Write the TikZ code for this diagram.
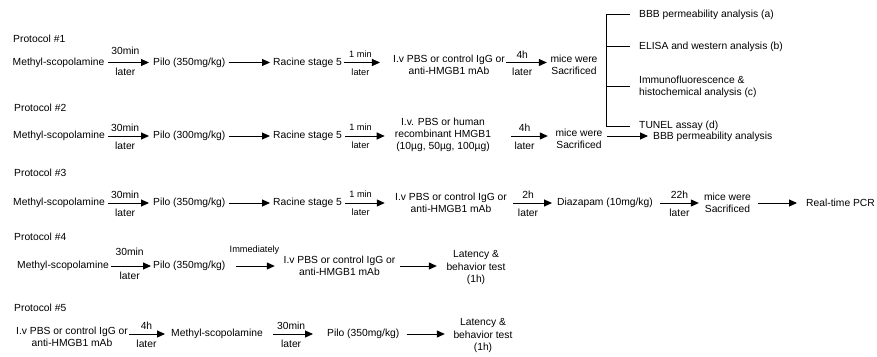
\documentclass[tikz,border=0pt]{standalone}
\usepackage{fontspec}
\setmainfont{Liberation Sans}
\usetikzlibrary{arrows.meta}
\newcommand\fmain{\fontsize{10.3}{12.3}\selectfont}
\newcommand\fsmall{\fontsize{9.2}{11}\selectfont}
\begin{document}
\begin{tikzpicture}[x=1pt,y=-1pt,
  txt/.style={inner sep=0pt, font=\fmain, align=center},
  wtxt/.style={txt, anchor=west},
  arr/.style={line width=1pt, -{Triangle[length=8pt,width=7pt]}},
  ln/.style={line width=0.75pt},
  ta/.style={above=4pt, font=\fmain, inner sep=0pt},
  tb/.style={below=5.5pt, font=\fmain, inner sep=0pt},
  sa/.style={above=5pt, font=\fsmall, inner sep=0pt},
  sb/.style={below=5.5pt, font=\fsmall, inner sep=0pt}]
\useasboundingbox (0,0) rectangle (877,356);
\coordinate (y1) at (0,62.5);
\coordinate (y2) at (0,136);
\coordinate (y3) at (0,203);
\coordinate (y4) at (0,266);
\coordinate (y5) at (0,334);
\coordinate (bx) at (606,0);

% ---------- Protocol 1
\node[wtxt] (pl1) at (13,39) {Protocol \#1};
\node[wtxt] (m1) at (12.5,62.5) {Methyl-scopolamine};
\node[wtxt] (p1) at (153,62.5) {Pilo (350mg/kg)};
\node[wtxt] (r1) at (273,62.5) {Racine stage 5};
\node[txt] (i1) at (449,65) {I.v PBS or control IgG or\\anti-HMGB1 mAb};
\node[txt] (s1) at (574,65) {mice were\\Sacrificed};
\node[wtxt] (t1) at (639,14.5) {BBB permeability analysis (a)};
\node[wtxt] (t2) at (639,46.5) {ELISA and western analysis (b)};
\node[wtxt, align=left] (t3) at (639,86.5) {Immunofluorescence \&\\histochemical analysis (c)};
\node[wtxt] (t4) at (639,126) {TUNEL assay (d)};

\draw[arr, shorten <=4pt, shorten >=4pt] (m1.east |- y1) -- node[ta, above=3pt, pos=0.43]{30min} node[tb, pos=0.43]{later} (p1.west |- y1);
\draw[arr, shorten <=3pt, shorten >=3pt] (p1.east |- y1) -- (r1.west |- y1);
\draw[arr, shorten <=1.5pt, shorten >=13pt] (r1.east |- y1) -- node[sa, pos=0.36]{1 min} node[sb, pos=0.36]{later} (i1.west |- y1);
\draw[arr, shorten <=1pt, shorten >=3.5pt] (i1.east |- y1) -- node[ta, pos=0.38]{4h} node[tb, pos=0.38]{later} (s1.west |- y1);

\draw[ln] (bx |- t1.west) -- (bx |- t4.west);
\draw[ln, shorten >=9pt] (bx |- t1.west) -- (t1.west);
\draw[ln, shorten >=9pt] (bx |- t2.west) -- (t2.west);
\draw[ln, shorten >=9pt] (bx |- t3.west) -- (t3.west);
\draw[ln, shorten >=9pt] (bx |- t4.west) -- (t4.west);

% ---------- Protocol 2
\node[wtxt] (pl2) at (14,108) {Protocol \#2};
\node[wtxt] (m2) at (13,136) {Methyl-scopolamine};
\node[wtxt] (p2) at (153,136) {Pilo (300mg/kg)};
\node[wtxt] (r2) at (273,136) {Racine stage 5};
\node[txt] (i2) at (443,135) {I.v. PBS or human\\recombinant HMGB1\\(10µg, 50µg, 100µg)};
\node[txt] (s2) at (579,139) {mice were\\Sacrificed};
\node[wtxt] (b2) at (653,137) {BBB permeability analysis};

\draw[arr, shorten <=3pt, shorten >=4pt] (m2.east |- y2) -- node[ta, pos=0.42]{30min} node[tb, pos=0.42]{later} (p2.west |- y2);
\draw[arr, shorten <=3pt, shorten >=3pt] (p2.east |- y2) -- (r2.west |- y2);
\draw[arr, shorten <=3.3pt, shorten >=10pt] (r2.east |- y2) -- node[sa, pos=0.35]{1 min} node[sb, pos=0.35]{later} (i2.west |- y2);
\draw[arr, shorten <=20pt, shorten >=7.5pt] (i2.east |- y2) -- node[ta, pos=0.52]{4h} node[tb, pos=0.52]{later} (s2.west |- y2);
\draw[arr, shorten <=4.5pt, shorten >=5pt] (s2.east |- y2) -- (b2.west |- y2);

% ---------- Protocol 3
\node[wtxt] (pl3) at (14,173) {Protocol \#3};
\node[wtxt] (m3) at (13,203) {Methyl-scopolamine};
\node[wtxt] (p3) at (153,203) {Pilo (350mg/kg)};
\node[wtxt] (r3) at (273,203) {Racine stage 5};
\node[txt] (i3) at (451,203) {I.v PBS or control IgG or\\anti-HMGB1 mAb};
\node[wtxt] (d3) at (557,202.5) {Diazapam (10mg/kg)};
\node[txt] (s3) at (727.5,203) {mice were\\Sacrificed};
\node[wtxt] (q3) at (806,203) {Real-time PCR};

\draw[arr, shorten <=3pt, shorten >=4pt] (m3.east |- y3) -- node[ta, pos=0.42]{30min} node[tb, pos=0.42]{later} (p3.west |- y3);
\draw[arr, shorten <=3pt, shorten >=3pt] (p3.east |- y3) -- (r3.west |- y3);
\draw[arr, shorten <=3.3pt, shorten >=10.2pt] (r3.east |- y3) -- node[sa, pos=0.35]{1 min} node[sb, pos=0.35]{later} (i3.west |- y3);
\draw[arr, shorten <=6pt, shorten >=5pt] (i3.east |- y3) -- node[ta, pos=0.42]{2h} node[tb, pos=0.42]{later} (d3.west |- y3);
\draw[arr, shorten <=7.4pt, shorten >=5pt] (d3.east |- y3) -- node[ta, pos=0.52]{22h} node[tb, pos=0.52]{later} (s3.west |- y3);
\draw[arr, shorten <=7pt, shorten >=9pt] (s3.east |- y3) -- (q3.west |- y3);

% ---------- Protocol 4
\node[wtxt] (pl4) at (14,237) {Protocol \#4};
\node[wtxt] (m4) at (17,266) {Methyl-scopolamine};
\node[wtxt] (p4) at (153,266) {Pilo (350mg/kg)};
\node[txt] (i4) at (339.5,266) {I.v PBS or control IgG or\\anti-HMGB1 mAb};
\node[txt] (l4) at (476,267.5) {Latency \&\\behavior test\\(1h)};

\draw[arr, shorten <=2.4pt, shorten >=2pt] (m4.east |- y4) -- node[ta, above=5.5pt, pos=0.47]{30min} node[tb, pos=0.47]{later} (p4.west |- y4);
\draw[arr, shorten <=10pt, shorten >=8.7pt] (p4.east |- y4) -- node[sa, above=6pt, pos=0.5]{Immediately} (i4.west |- y4);
\draw[arr, shorten <=4.7pt, shorten >=9.5pt] (i4.east |- y4) -- (l4.west |- y4);

% ---------- Protocol 5
\node[wtxt] (pl5) at (14,308) {Protocol \#5};
\node[txt] (i5) at (72,336.5) {I.v PBS or control IgG or\\anti-HMGB1 mAb};
\node[wtxt] (m5) at (171,334) {Methyl-scopolamine};
\node[wtxt] (p5) at (327,334) {Pilo (350mg/kg)};
\node[txt] (l5) at (483,335.5) {Latency \&\\behavior test\\(1h)};

\draw[arr, shorten <=1.2pt, shorten >=6pt] (i5.east |- y5) -- node[ta, pos=0.43]{4h} node[tb, pos=0.43]{later} (m5.west |- y5);
\draw[arr, shorten <=10.4pt, shorten >=14pt] (m5.east |- y5) -- node[ta, pos=0.44]{30min} node[tb, pos=0.44]{later} (p5.west |- y5);
\draw[arr, shorten <=7pt, shorten >=8.5pt] (p5.east |- y5) -- (l5.west |- y5);
\end{tikzpicture}
\end{document}
